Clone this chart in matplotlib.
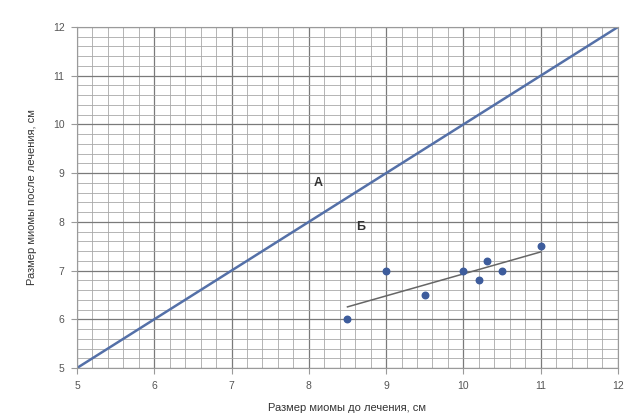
import numpy as np
import matplotlib
matplotlib.use("Agg")
import matplotlib.pyplot as plt
from matplotlib.ticker import MultipleLocator

plt.rcParams["font.family"] = ["Liberation Sans", "DejaVu Sans"]

# size before and after treatment, cm
size_before = [8.5, 9.0, 9.5, 10.0, 10.2, 10.3, 10.5, 11.0]
size_after = [6.0, 7.0, 6.5, 7.0, 6.8, 7.2, 7.0, 7.5]
# reference line "A": no change
line_a = [5, 12]

fig = plt.figure(figsize=(6.28, 4.19), dpi=100)
ax = fig.add_axes([0.1226, 0.1217, 0.8614, 0.8139])

ax.set_xlim(5, 12)
ax.set_ylim(5, 12)
ax.xaxis.set_major_locator(MultipleLocator(1))
ax.yaxis.set_major_locator(MultipleLocator(1))
ax.xaxis.set_minor_locator(MultipleLocator(0.2))
ax.yaxis.set_minor_locator(MultipleLocator(0.2))
ax.grid(which="major", color="#7a7a7a", lw=0.9)
ax.grid(which="minor", color="#a8a8a8", lw=0.6)
ax.set_axisbelow(True)
for s in ax.spines.values():
    s.set_color("#9a9a9a")
ax.tick_params(which="major", length=4, color="#9a9a9a", labelsize=7.5,
               labelcolor="#555555", pad=5)
ax.tick_params(which="minor", length=0)

ax.plot(line_a, line_a, color="#5470a8", lw=1.8)

x = np.array(size_before)
y = np.array(size_after)
k, b = np.polyfit(x, y, 1)
ax.plot([x.min(), x.max()], [k * x.min() + b, k * x.max() + b], color="#666666", lw=1.1)
ax.scatter(x, y, s=22, color="#3d5c9c", zorder=3)

ax.text(8.12, 8.8, "А", fontsize=9, fontweight="bold", color="#333333", ha="center", va="center")
ax.text(8.67, 7.9, "Б", fontsize=9, fontweight="bold", color="#333333", ha="center", va="center")

ax.set_xlabel("Размер миомы до лечения, см", fontsize=8, color="#333333", labelpad=9)
ax.set_ylabel("Размер миомы после лечения, см", fontsize=8, color="#333333", labelpad=11)

fig.savefig("out.png", dpi=100)
